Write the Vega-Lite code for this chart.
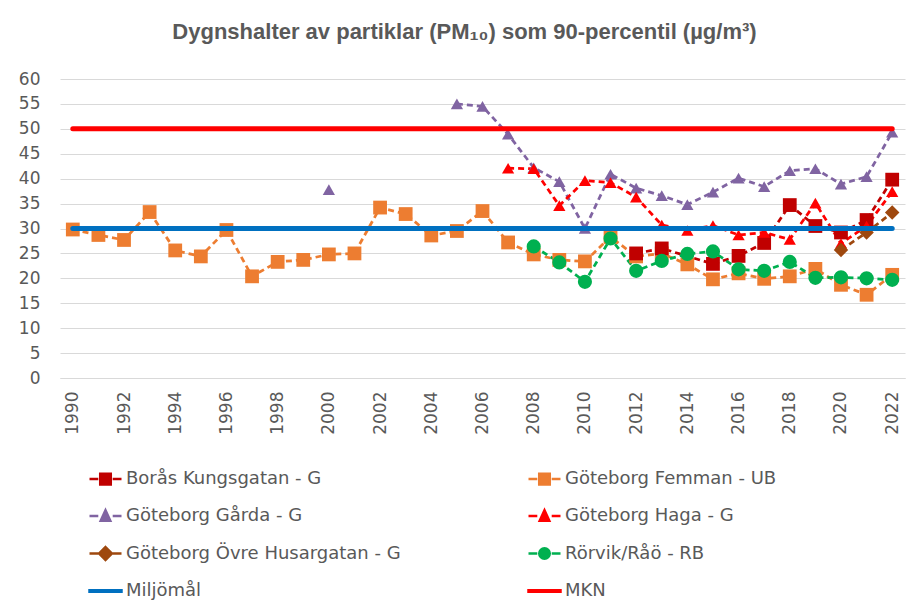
{
  "$schema": "https://vega.github.io/schema/vega-lite/v6.json",
  "autosize": {"type": "none"},
  "padding": {"left": 60, "top": 79, "right": 3, "bottom": 226},
  "width": 845,
  "height": 299,
  "background": "white",
  "title": {
    "text": "Dygnshalter av partiklar (PM₁₀) som 90-percentil (µg/m³)",
    "font": "Liberation Sans",
    "fontSize": 22,
    "fontWeight": "bold",
    "color": "#595959",
    "anchor": "middle",
    "offset": 26,
    "dx": -18
  },
  "config": {
    "view": {"stroke": null},
    "axis": {
      "labelFont": "DejaVu Sans",
      "labelFontSize": 17,
      "labelColor": "#595959",
      "ticks": false,
      "title": null
    }
  },
  "data": {
    "values": [
      {"series": "Göteborg Femman - UB", "year": 1990, "value": 29.8},
      {"series": "Göteborg Femman - UB", "year": 1991, "value": 28.7},
      {"series": "Göteborg Femman - UB", "year": 1992, "value": 27.7},
      {"series": "Göteborg Femman - UB", "year": 1993, "value": 33.3},
      {"series": "Göteborg Femman - UB", "year": 1994, "value": 25.6},
      {"series": "Göteborg Femman - UB", "year": 1995, "value": 24.4},
      {"series": "Göteborg Femman - UB", "year": 1996, "value": 29.7},
      {"series": "Göteborg Femman - UB", "year": 1997, "value": 20.4},
      {"series": "Göteborg Femman - UB", "year": 1998, "value": 23.3},
      {"series": "Göteborg Femman - UB", "year": 1999, "value": 23.7},
      {"series": "Göteborg Femman - UB", "year": 2000, "value": 24.8},
      {"series": "Göteborg Femman - UB", "year": 2001, "value": 25.0},
      {"series": "Göteborg Femman - UB", "year": 2002, "value": 34.2},
      {"series": "Göteborg Femman - UB", "year": 2003, "value": 32.9},
      {"series": "Göteborg Femman - UB", "year": 2004, "value": 28.6},
      {"series": "Göteborg Femman - UB", "year": 2005, "value": 29.5},
      {"series": "Göteborg Femman - UB", "year": 2006, "value": 33.5},
      {"series": "Göteborg Femman - UB", "year": 2007, "value": 27.2},
      {"series": "Göteborg Femman - UB", "year": 2008, "value": 24.8},
      {"series": "Göteborg Femman - UB", "year": 2009, "value": 23.7},
      {"series": "Göteborg Femman - UB", "year": 2010, "value": 23.4},
      {"series": "Göteborg Femman - UB", "year": 2011, "value": 28.3},
      {"series": "Göteborg Femman - UB", "year": 2012, "value": 24.4},
      {"series": "Göteborg Femman - UB", "year": 2013, "value": 25.0},
      {"series": "Göteborg Femman - UB", "year": 2014, "value": 22.8},
      {"series": "Göteborg Femman - UB", "year": 2015, "value": 19.8},
      {"series": "Göteborg Femman - UB", "year": 2016, "value": 21.0},
      {"series": "Göteborg Femman - UB", "year": 2017, "value": 19.9},
      {"series": "Göteborg Femman - UB", "year": 2018, "value": 20.4},
      {"series": "Göteborg Femman - UB", "year": 2019, "value": 21.9},
      {"series": "Göteborg Femman - UB", "year": 2020, "value": 18.7},
      {"series": "Göteborg Femman - UB", "year": 2021, "value": 16.7},
      {"series": "Göteborg Femman - UB", "year": 2022, "value": 20.7},
      {"series": "Borås Kungsgatan - G", "year": 2012, "value": 25.0},
      {"series": "Borås Kungsgatan - G", "year": 2013, "value": 26.0},
      {"series": "Borås Kungsgatan - G", "year": 2015, "value": 22.9},
      {"series": "Borås Kungsgatan - G", "year": 2016, "value": 24.5},
      {"series": "Borås Kungsgatan - G", "year": 2017, "value": 27.1},
      {"series": "Borås Kungsgatan - G", "year": 2018, "value": 34.7},
      {"series": "Borås Kungsgatan - G", "year": 2019, "value": 30.5},
      {"series": "Borås Kungsgatan - G", "year": 2020, "value": 29.2},
      {"series": "Borås Kungsgatan - G", "year": 2021, "value": 31.7},
      {"series": "Borås Kungsgatan - G", "year": 2022, "value": 39.8},
      {"series": "Göteborg Gårda - G", "year": 2000, "value": 37.8},
      {"series": "Göteborg Gårda - G", "year": 2003, "value": null},
      {"series": "Göteborg Gårda - G", "year": 2005, "value": 55.0},
      {"series": "Göteborg Gårda - G", "year": 2006, "value": 54.5},
      {"series": "Göteborg Gårda - G", "year": 2007, "value": 48.9},
      {"series": "Göteborg Gårda - G", "year": 2008, "value": 42.2},
      {"series": "Göteborg Gårda - G", "year": 2009, "value": 39.4},
      {"series": "Göteborg Gårda - G", "year": 2010, "value": 30.0},
      {"series": "Göteborg Gårda - G", "year": 2011, "value": 40.9},
      {"series": "Göteborg Gårda - G", "year": 2012, "value": 38.1},
      {"series": "Göteborg Gårda - G", "year": 2013, "value": 36.6},
      {"series": "Göteborg Gårda - G", "year": 2014, "value": 34.8},
      {"series": "Göteborg Gårda - G", "year": 2015, "value": 37.3},
      {"series": "Göteborg Gårda - G", "year": 2016, "value": 40.1},
      {"series": "Göteborg Gårda - G", "year": 2017, "value": 38.4},
      {"series": "Göteborg Gårda - G", "year": 2018, "value": 41.6},
      {"series": "Göteborg Gårda - G", "year": 2019, "value": 42.0},
      {"series": "Göteborg Gårda - G", "year": 2020, "value": 38.9},
      {"series": "Göteborg Gårda - G", "year": 2021, "value": 40.4},
      {"series": "Göteborg Gårda - G", "year": 2022, "value": 49.3},
      {"series": "Göteborg Haga - G", "year": 2007, "value": 42.1},
      {"series": "Göteborg Haga - G", "year": 2008, "value": 42.0},
      {"series": "Göteborg Haga - G", "year": 2009, "value": 34.6},
      {"series": "Göteborg Haga - G", "year": 2010, "value": 39.6},
      {"series": "Göteborg Haga - G", "year": 2011, "value": 39.2},
      {"series": "Göteborg Haga - G", "year": 2012, "value": 36.3},
      {"series": "Göteborg Haga - G", "year": 2013, "value": 30.7},
      {"series": "Göteborg Haga - G", "year": 2014, "value": 29.6},
      {"series": "Göteborg Haga - G", "year": 2015, "value": 30.6},
      {"series": "Göteborg Haga - G", "year": 2016, "value": 28.7},
      {"series": "Göteborg Haga - G", "year": 2017, "value": 29.2},
      {"series": "Göteborg Haga - G", "year": 2018, "value": 27.8},
      {"series": "Göteborg Haga - G", "year": 2019, "value": 35.1},
      {"series": "Göteborg Haga - G", "year": 2020, "value": 27.0},
      {"series": "Göteborg Haga - G", "year": 2021, "value": 30.5},
      {"series": "Göteborg Haga - G", "year": 2022, "value": 37.4},
      {"series": "Göteborg Övre Husargatan - G", "year": 2020, "value": 25.7},
      {"series": "Göteborg Övre Husargatan - G", "year": 2021, "value": 29.2},
      {"series": "Göteborg Övre Husargatan - G", "year": 2022, "value": 33.2},
      {"series": "Rörvik/Råö - RB", "year": 2008, "value": 26.4},
      {"series": "Rörvik/Råö - RB", "year": 2009, "value": 23.2},
      {"series": "Rörvik/Råö - RB", "year": 2010, "value": 19.3},
      {"series": "Rörvik/Råö - RB", "year": 2011, "value": 28.0},
      {"series": "Rörvik/Råö - RB", "year": 2012, "value": 21.5},
      {"series": "Rörvik/Råö - RB", "year": 2013, "value": 23.5},
      {"series": "Rörvik/Råö - RB", "year": 2014, "value": 24.9},
      {"series": "Rörvik/Råö - RB", "year": 2015, "value": 25.4},
      {"series": "Rörvik/Råö - RB", "year": 2016, "value": 21.8},
      {"series": "Rörvik/Råö - RB", "year": 2017, "value": 21.5},
      {"series": "Rörvik/Råö - RB", "year": 2018, "value": 23.3},
      {"series": "Rörvik/Råö - RB", "year": 2019, "value": 20.1},
      {"series": "Rörvik/Råö - RB", "year": 2020, "value": 20.2},
      {"series": "Rörvik/Råö - RB", "year": 2021, "value": 20.0},
      {"series": "Rörvik/Råö - RB", "year": 2022, "value": 19.7}
    ]
  },
  "encoding": {
    "x": {
      "field": "year",
      "type": "quantitative",
      "scale": {"domain": [1989.5, 2022.5], "nice": false, "zero": false},
      "axis": {
        "values": [1990, 1992, 1994, 1996, 1998, 2000, 2002, 2004, 2006, 2008, 2010, 2012, 2014, 2016, 2018, 2020, 2022],
        "format": "d",
        "labelAngle": -90,
        "labelPadding": 13,
        "grid": false,
        "domain": true,
        "domainColor": "#d9d9d9",
        "domainWidth": 1
      }
    },
    "y": {
      "field": "value",
      "type": "quantitative",
      "scale": {"domain": [0, 60], "nice": false},
      "axis": {
        "values": [0, 5, 10, 15, 20, 25, 30, 35, 40, 45, 50, 55, 60],
        "grid": true,
        "gridColor": "#d9d9d9",
        "gridWidth": 1,
        "domain": false,
        "labelPadding": 20
      }
    },
    "color": {
      "field": "series",
      "type": "nominal",
      "scale": {
        "domain": ["Borås Kungsgatan - G", "Göteborg Femman - UB", "Göteborg Gårda - G", "Göteborg Haga - G", "Göteborg Övre Husargatan - G", "Rörvik/Råö - RB", "Miljömål", "MKN"],
        "range": ["#C00000", "#ED7D31", "#8064A2", "#FF0000", "#9E480E", "#00B050", "#0070C0", "#FF0000"]
      },
      "legend": {
        "title": null,
        "orient": "none",
        "legendX": 28,
        "legendY": 382,
        "direction": "horizontal",
        "columns": 2,
        "gridAlign": "all",
        "columnPadding": 122,
        "rowPadding": 8.5,
        "symbolSize": 1024,
        "symbolStrokeWidth": 2.5,
        "symbolOpacity": 1,
        "labelFont": "DejaVu Sans",
        "labelFontSize": 18,
        "labelColor": "#595959",
        "labelOffset": 3,
        "labelLimit": 400,
        "encode": {
          "symbols": {
            "update": {
              "opacity": {"value": 1},
              "fill": {"scale": "color", "field": "value"},
              "stroke": {"scale": "color", "field": "value"},
              "strokeWidth": {"value": 2.5},
              "strokeDash": {"value": []},
              "size": {"value": 1024},
              "shape": {"signal": "(datum.value === 'Miljömål' || datum.value === 'MKN') ? 'M-1,-0.04H1V0.04H-1Z' : datum.value === 'Rörvik/Råö - RB' ? 'M-1,0H-0.45M0.45,0H1M-0.33,0A0.33,0.33 0 1,0 0.33,0A0.33,0.33 0 1,0 -0.33,0Z' : datum.value === 'Göteborg Övre Husargatan - G' ? 'M-1,0H-0.45M0.45,0H1M0,-0.4L0.4,0L0,0.4L-0.4,0Z' : (datum.value === 'Göteborg Gårda - G' || datum.value === 'Göteborg Haga - G') ? 'M-1,0H-0.45M0.45,0H1M0,-0.36L0.3,0.3H-0.3Z' : 'M-1,0H-0.45M0.45,0H1M-0.33,-0.33H0.33V0.33H-0.33Z'"}
            }
          }
        }
      }
    }
  },
  "layer": [
    {
      "mark": {"type": "line", "strokeDash": [6, 4], "strokeWidth": 2.75, "invalid": "break-paths-show-domains"},
      "encoding": {"detail": {"field": "series"}}
    },
    {
      "transform": [{"filter": {"field": "series", "oneOf": ["Borås Kungsgatan - G", "Göteborg Femman - UB"]}}],
      "mark": {"type": "point", "filled": true, "opacity": 1, "shape": "square", "size": 190}
    },
    {
      "transform": [{"filter": {"field": "series", "oneOf": ["Göteborg Gårda - G", "Göteborg Haga - G"]}}],
      "mark": {"type": "point", "filled": true, "opacity": 1, "shape": "triangle-up", "size": 150}
    },
    {
      "transform": [{"filter": {"field": "series", "oneOf": ["Göteborg Övre Husargatan - G"]}}],
      "mark": {"type": "point", "filled": true, "opacity": 1, "shape": "diamond", "size": 210}
    },
    {
      "transform": [{"filter": {"field": "series", "oneOf": ["Rörvik/Råö - RB"]}}],
      "mark": {"type": "point", "filled": true, "opacity": 1, "shape": "circle", "size": 200}
    },
    {
      "data": {
        "values": [
          {"series": "Miljömål", "year": 1990, "value": 30},
          {"series": "Miljömål", "year": 2022, "value": 30},
          {"series": "MKN", "year": 1990, "value": 50},
          {"series": "MKN", "year": 2022, "value": 50}
        ]
      },
      "mark": {"type": "line", "strokeWidth": 5, "strokeCap": "round"},
      "encoding": {"detail": {"field": "series"}}
    }
  ]
}
